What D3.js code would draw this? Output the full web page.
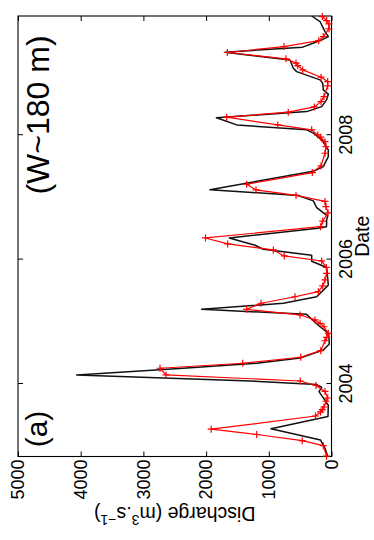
<!DOCTYPE html>
<html><head><meta charset="utf-8">
<script src="https://cdn.jsdelivr.net/npm/d3@7"></script>
<style>
body{margin:0;background:#fff}
svg{display:block}
text{font-family:"Liberation Sans",Arial,Helvetica,sans-serif;fill:#000}
</style>
</head><body><svg id="c" width="374" height="540"></svg>
<script>
// ---- data (decimal years, discharge m3/s) ----
const dateDomain = [2002.834, 2009.917];
const dateTicks = [2004, 2006, 2008];
const dischargeTicks = [0, 1000, 2000, 3000, 4000, 5000];

const observedDates = [2002.84,2003.008,2003.088,2003.188,2003.273,2003.485,2003.55,2003.587,2003.63,2003.722,2003.775,2003.88,2003.976,
 2004.048,2004.145,2004.253,2004.333,2004.43,2004.536,2004.695,2004.751,2004.815,2004.92,2004.976,
 2005.03,2005.11,2005.20,2005.298,2005.403,2005.485,2005.576,2005.673,2005.78,2005.875,2005.978,
 2006.059,2006.155,2006.252,2006.348,2006.53,2006.62,2006.75,2006.852,2006.935,
 2007.032,2007.12,2007.212,2007.40,2007.507,2007.71,2007.817,2007.897,2007.968,
 2008.005,2008.086,2008.166,2008.29,2008.37,2008.455,2008.54,2008.621,2008.793,2008.863,2008.933,
 2009.05,2009.12,2009.16,2009.228,2009.33,2009.425,2009.52,2009.586,2009.71,2009.79,2009.843,2009.908];
const observedValues = [80,131,466,1193,1919,255,175,147,120,88,60,104,247,
 498,2640,2735,1416,491,172,104,77,51,120,183,
 263,502,1353,1124,582,210,140,104,77,82,156,
 754,928,1656,2010,175,140,55,88,104,
 566,1204,1353,306,167,104,88,104,172,
 220,316,858,1672,690,274,167,120,61,61,167,
 459,539,566,726,1662,758,204,131,40,40,77,147];

const modelDates = [2002.834,2002.966,2003.10,2003.281,2003.477,2003.66,2003.876,2003.947,2003.99,
 2004.053,2004.145,2004.253,2004.333,2004.418,2004.547,2004.643,2004.815,2004.92,
 2005.12,2005.20,2005.298,2005.404,2005.59,2005.874,2005.974,
 2006.07,2006.167,2006.23,2006.348,2006.505,2006.53,2006.64,2006.70,2006.836,2006.944,
 2007.032,2007.125,2007.42,2007.495,2007.656,2007.764,2007.925,
 2008.033,2008.086,2008.166,2008.28,2008.38,2008.46,2008.573,2008.66,2008.73,2008.837,2008.89,
 2009.023,2009.078,2009.21,2009.335,2009.416,2009.49,2009.533,2009.586,2009.667,2009.828,2009.917];
const modelValues = [60,104,175,965,56,51,199,156,236,
 1407,4064,2364,1193,502,131,35,45,183,
 399,2070,769,236,51,77,316,
 316,1088,1220,1630,215,80,77,61,236,290,
 530,1938,290,131,51,51,156,
 290,396,1512,1835,396,156,77,51,131,140,183,
 555,609,662,1699,459,263,156,51,104,183,316];

const panelLabel = "(a)";
const widthLabel = "(W~180 m)";

// ---- drawing ----
const W = 440.5, H = 313.5;
const svg = d3.select("#c");
const g = svg.append("g").attr("transform", "translate(18,456.5) rotate(-90)");

const x = d3.scaleLinear().domain(dateDomain).range([0, W]);
const y = d3.scaleLinear().domain([0, 5000]).range([H, 0]);

// axes
const xb = g.append("g").attr("transform", `translate(0,${H})`)
  .call(d3.axisBottom(x).tickValues(dateTicks).tickSize(-5).tickPadding(8).tickFormat(d3.format("d")));
const xt = g.append("g")
  .call(d3.axisTop(x).tickValues(dateTicks).tickSize(-5).tickFormat(""));
const yl = g.append("g")
  .call(d3.axisLeft(y).tickValues(dischargeTicks).tickSize(-5).tickPadding(3).tickFormat(d3.format("d")));
const yr = g.append("g").attr("transform", `translate(${W},0)`)
  .call(d3.axisRight(y).tickValues(dischargeTicks).tickSize(-5).tickFormat(""));
[xb, xt, yl, yr].forEach(a => {
  a.select(".domain").remove();
  a.selectAll("line").attr("stroke", "#000").attr("stroke-width", 1);
  a.selectAll("text").attr("font-size", 18).attr("font-family", '"Liberation Sans",Arial,sans-serif');
});

// frame
g.append("rect").attr("x", 0).attr("y", 0).attr("width", W).attr("height", H)
  .attr("fill", "none").attr("stroke", "#000").attr("stroke-width", 1.1);

// series
const model = modelDates.map((d, i) => [d, modelValues[i]]);
const obs = observedDates.map((d, i) => [d, observedValues[i]]);
const line = d3.line().x(d => x(d[0])).y(d => y(d[1]));

g.append("path").datum(model).attr("d", line)
  .attr("fill", "none").attr("stroke", "#111").attr("stroke-width", 1.5).attr("stroke-linejoin", "round");
g.append("path").datum(obs).attr("d", line)
  .attr("fill", "none").attr("stroke", "#ff0000").attr("stroke-width", 1.2).attr("stroke-linejoin", "round");
g.append("g").selectAll("path").data(obs).join("path")
  .attr("transform", d => `translate(${x(d[0])},${y(d[1])})`)
  .attr("d", "M-3.5,0H3.5M0,-3.5V3.5")
  .attr("stroke", "#ff0000").attr("stroke-width", 1.2).attr("fill", "none");

// labels
g.append("text").attr("x", W / 2).attr("y", 350.5).attr("text-anchor", "middle")
  .attr("font-size", 19.5).text("Date");

const yLab = g.append("text").attr("transform", `translate(-50.2,${H / 2}) rotate(-90)`)
  .attr("text-anchor", "middle").attr("font-size", 19.5);
yLab.append("tspan").text("Discharge (m");
yLab.append("tspan").attr("font-size", 14).attr("dy", -8).text("3");
yLab.append("tspan").attr("dy", 8).text(".s");
yLab.append("tspan").attr("font-size", 14).attr("dy", -8).text("\u22121");
yLab.append("tspan").attr("dy", 8).text(")");

g.append("text").attr("x", 27.5).attr("y", 29).attr("text-anchor", "middle")
  .attr("font-size", 30).text(panelLabel);
g.append("text").attr("x", 341.5).attr("y", 30.5).attr("text-anchor", "middle")
  .attr("font-size", 32).text(widthLabel);
</script>
</body></html>
